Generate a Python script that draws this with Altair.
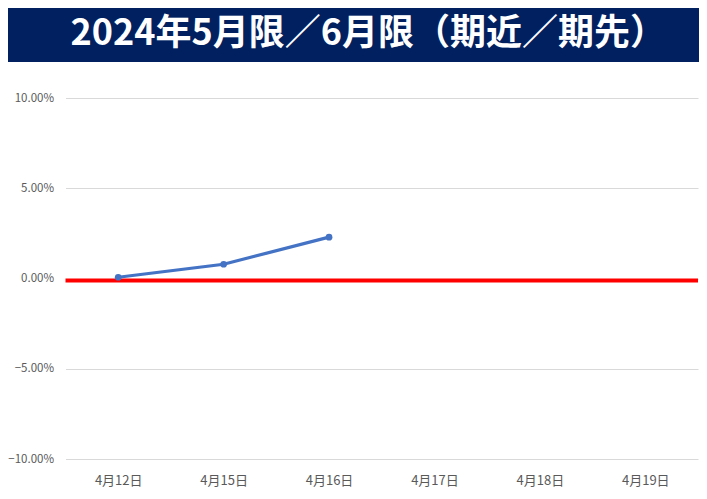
import altair as alt
import pandas as pd

title_text = "2024年5月限／6月限（期近／期先）"
categories = ["4月12日", "4月15日", "4月16日", "4月17日", "4月18日", "4月19日"]
spread_dates = ["4月12日", "4月15日", "4月16日"]
spread_values = [0.0007, 0.0079, 0.0229]
y_ticks = [-0.10, -0.05, 0.0, 0.05, 0.10]
zero_value = 0.0

FONT = "Noto Sans CJK JP"

df = pd.DataFrame({"date": spread_dates, "value": spread_values})

x_enc = alt.X("date:N", scale=alt.Scale(domain=categories, type="point", padding=0.5),
              sort=categories,
              axis=alt.Axis(title=None, labelAngle=0, domain=False, ticks=False, grid=False,
                            labelPadding=15, labelFontSize=13, labelColor="#595959", labelFont=FONT))
y_scale = alt.Scale(domain=[-0.10, 0.10], nice=False)
y_enc = alt.Y("value:Q", scale=y_scale,
              axis=alt.Axis(title=None, values=y_ticks, format=".2%", domain=False, ticks=False,
                            grid=True, gridColor="#D9D9D9", gridWidth=1, labelPadding=12,
                            labelFontSize=11.5, labelColor="#595959", labelFont=FONT))

base = alt.Chart(df)

line = base.mark_line(color="#4472C4", strokeWidth=3.2).encode(x=x_enc, y=y_enc)
points = base.mark_point(color="#4472C4", filled=True, opacity=1, size=45).encode(x=x_enc, y=y_enc)

zero = alt.Chart(pd.DataFrame({"value": [zero_value]})).mark_rule(
    color="#FF0000", strokeWidth=4, yOffset=2
).encode(y=y_enc)

banner = alt.Chart(pd.DataFrame({"t": [title_text]})).mark_rect(color="#002060").encode(
    x=alt.value(-57.5), x2=alt.value(633.5), y=alt.value(-90), y2=alt.value(-36)
)
title = alt.Chart(pd.DataFrame({"t": [title_text]})).mark_text(
    align="left", baseline="middle", fontSize=36, fontWeight="bold", color="white", font=FONT
).encode(x=alt.value(5), y=alt.value(-64), text="t:N")

chart = alt.layer(zero, line, points, banner, title).properties(
    width=632.5, height=361,
    background="white",
    autosize=alt.AutoSizeParams(type="none"),
    padding={"left": 57.5, "top": 90, "right": 1, "bottom": 32},
).configure_view(stroke=None)

chart.save("out.html", embed_options={"renderer": "svg", "actions": False})
